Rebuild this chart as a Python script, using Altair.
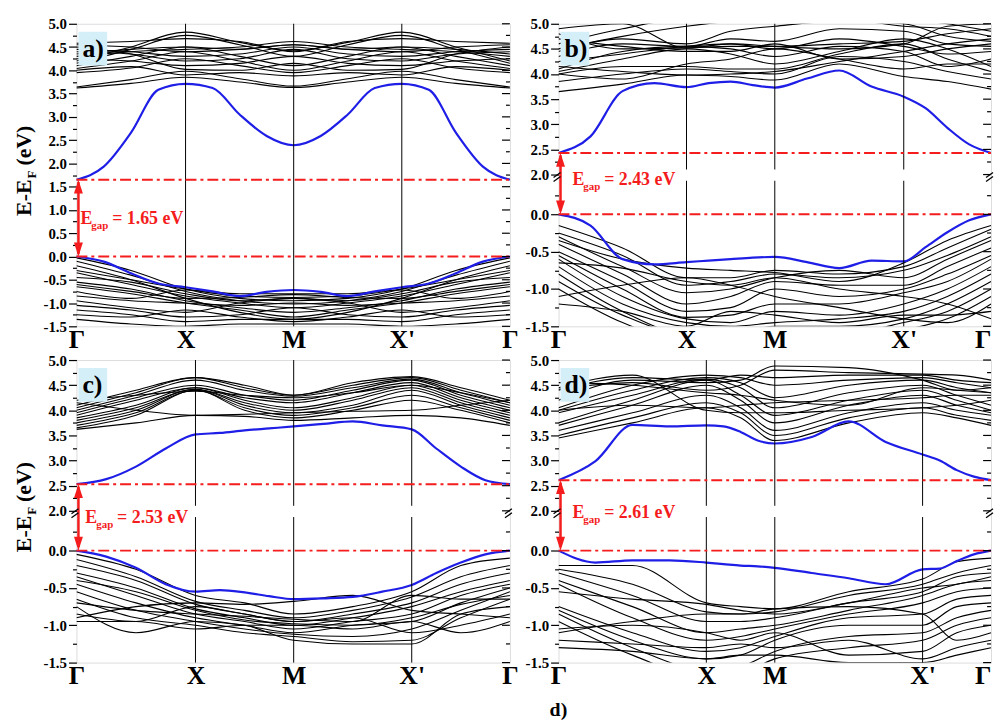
import altair as alt
import pandas as pd

FONT = "Liberation Serif"
BG = "#d5eff9"
RED = "#f41c1c"
BLUE = "#1e1ee6"

HS_LABELS = ["Γ", "X", "M", "X'", "Γ"]
K_BLACK = [0.0, 0.5, 1.0, 1.5, 2.0, 2.5, 3.0, 3.5, 4.0]
K_BLUE = [0.0, 0.25, 0.5, 0.75, 1.0, 1.25, 1.5, 1.75, 2.0, 2.25, 2.5, 2.75, 3.0, 3.25, 3.5, 3.75, 4.0]

FULL_MAJOR = [-1.5, -1.0, -0.5, 0.0, 0.5, 1.0, 1.5, 2.0, 2.5, 3.0, 3.5, 4.0, 4.5, 5.0]
FULL_MINOR = [-1.25, -0.75, -0.25, 0.25, 0.75, 1.25, 1.75, 2.25, 2.75, 3.25, 3.75, 4.25, 4.75]
BROKEN_MAJOR = [-1.5, -1.0, -0.5, 0.0, 2.0, 2.5, 3.0, 3.5, 4.0, 4.5, 5.0]
BROKEN_MINOR = [-1.25, -0.75, -0.25, 0.25, 2.25, 2.75, 3.25, 3.75, 4.25, 4.75]

# ---------------- panel a ----------------
A_GAP = 1.65
A_BLUE_CB = [1.65, 1.93, 2.66, 3.58, 3.71, 3.62, 3.05, 2.59, 2.39, 2.59, 3.05, 3.62, 3.71, 3.58, 2.66, 1.93, 1.65]
A_BLUE_VB = [0.0, -0.11, -0.36, -0.58, -0.66, -0.75, -0.85, -0.76, -0.72, -0.76, -0.85, -0.75, -0.66, -0.58, -0.36, -0.11, 0.0]
A_CB = [
    [3.62, 3.72, 3.85, 3.75, 3.63, 3.75, 3.85, 3.72, 3.62],
    [3.64, 3.80, 3.98, 3.82, 3.66, 3.82, 3.98, 3.80, 3.64],
    [4.00, 4.08, 3.90, 3.95, 3.88, 3.95, 3.90, 4.08, 4.00],
    [4.04, 4.20, 4.40, 4.20, 4.00, 4.20, 4.40, 4.20, 4.04],
    [4.10, 4.30, 4.50, 4.30, 4.10, 4.30, 4.50, 4.30, 4.10],
    [4.15, 4.45, 4.75, 4.55, 4.30, 4.55, 4.75, 4.45, 4.15],
    [4.20, 4.50, 4.82, 4.60, 4.42, 4.60, 4.82, 4.50, 4.20],
    [4.30, 4.40, 4.45, 4.50, 4.62, 4.50, 4.45, 4.40, 4.30],
    [4.35, 4.45, 4.50, 4.45, 4.55, 4.45, 4.50, 4.45, 4.35],
    [4.40, 4.35, 4.20, 4.25, 4.45, 4.25, 4.20, 4.35, 4.40],
    [4.45, 4.40, 4.30, 4.35, 4.50, 4.35, 4.30, 4.40, 4.45],
    [4.50, 4.35, 4.02, 4.00, 4.15, 4.00, 4.02, 4.35, 4.50],
    [4.55, 4.50, 4.40, 4.45, 4.55, 4.45, 4.40, 4.50, 4.55],
    [4.25, 4.20, 4.10, 4.15, 4.30, 4.15, 4.10, 4.20, 4.25],
    [3.95, 4.05, 4.25, 4.10, 3.95, 4.10, 4.25, 4.05, 3.95],
    [4.58, 4.62, 4.68, 4.62, 4.40, 4.62, 4.68, 4.62, 4.58],
]
A_VB = [
    [-0.03, -0.30, -0.70, -0.90, -0.95, -0.90, -0.70, -0.30, -0.03],
    [-0.10, -0.40, -0.75, -0.95, -1.02, -0.95, -0.75, -0.40, -0.10],
    [-0.30, -0.50, -0.70, -0.85, -0.88, -0.85, -0.70, -0.50, -0.30],
    [-0.35, -0.60, -0.85, -1.00, -1.10, -1.00, -0.85, -0.60, -0.35],
    [-0.45, -0.55, -0.80, -0.95, -0.90, -0.95, -0.80, -0.55, -0.45],
    [-0.55, -0.70, -0.95, -1.10, -1.20, -1.10, -0.95, -0.70, -0.55],
    [-0.65, -0.80, -1.00, -1.15, -1.30, -1.15, -1.00, -0.80, -0.65],
    [-0.75, -0.90, -0.72, -0.80, -0.80, -0.80, -0.72, -0.90, -0.75],
    [-0.85, -0.95, -1.00, -1.05, -1.00, -1.05, -1.00, -0.95, -0.85],
    [-0.95, -1.10, -1.20, -1.00, -0.90, -1.00, -1.20, -1.10, -0.95],
    [-1.05, -1.15, -1.30, -1.25, -1.10, -1.25, -1.30, -1.15, -1.05],
    [-1.15, -1.25, -1.40, -1.35, -1.35, -1.35, -1.40, -1.25, -1.15],
    [-1.25, -1.30, -1.15, -1.30, -1.40, -1.30, -1.15, -1.30, -1.25],
    [-1.35, -1.45, -1.50, -1.45, -1.45, -1.45, -1.50, -1.45, -1.35],
    [-0.20, -0.50, -0.90, -1.20, -1.35, -1.20, -0.90, -0.50, -0.20],
    [-0.60, -0.75, -0.90, -0.88, -0.82, -0.88, -0.90, -0.75, -0.60],
]

# ---------------- panel b ----------------
B_GAP = 2.43
B_BLUE_CB = [2.43, 2.76, 3.66, 3.82, 3.74, 3.82, 3.85, 3.78, 3.73, 3.91, 4.07, 3.75, 3.55, 3.32, 2.93, 2.60, 2.43]
B_BLUE_VB = [0.0, -0.15, -0.60, -0.67, -0.64, -0.62, -0.60, -0.58, -0.57, -0.64, -0.72, -0.62, -0.63, -0.44, -0.24, -0.08, 0.0]
B_CB = [
    [3.65, 3.80, 3.98, 3.95, 3.88, 4.20, 3.95, 3.85, 3.70],
    [3.85, 4.00, 4.10, 4.05, 4.00, 4.35, 4.25, 4.05, 3.90],
    [4.00, 4.15, 4.15, 4.10, 4.10, 4.40, 4.60, 4.30, 4.05],
    [4.05, 4.30, 4.50, 4.40, 4.20, 4.45, 4.70, 4.50, 4.15],
    [4.10, 4.45, 4.55, 4.50, 4.35, 4.55, 4.45, 4.15, 4.30],
    [4.25, 4.40, 4.55, 4.60, 4.50, 4.70, 4.55, 4.40, 4.45],
    [4.35, 4.60, 4.55, 4.70, 4.65, 4.90, 4.85, 4.60, 4.55],
    [4.45, 4.70, 4.60, 4.85, 4.95, 5.05, 5.00, 4.75, 4.65],
    [4.50, 4.75, 4.95, 5.05, 5.10, 5.10, 4.95, 4.90, 4.75],
    [4.60, 4.90, 5.10, 5.10, 5.10, 5.20, 5.10, 5.00, 4.85],
    [4.70, 4.55, 4.45, 4.45, 4.60, 4.30, 4.35, 4.50, 4.60],
    [4.80, 4.50, 4.52, 4.55, 4.55, 4.60, 4.65, 4.80, 4.90],
    [4.90, 5.00, 4.52, 4.60, 4.55, 4.50, 4.60, 4.95, 5.00],
    [4.00, 3.90, 4.20, 4.30, 4.50, 4.30, 4.10, 4.20, 4.20],
    [4.15, 4.05, 3.98, 4.00, 4.05, 4.25, 4.45, 4.60, 4.70],
]
B_VB = [
    [-0.15, -0.45, -0.85, -0.85, -0.75, -0.80, -0.70, -0.45, -0.20],
    [-0.25, -0.55, -0.95, -0.90, -0.80, -0.85, -0.75, -0.55, -0.30],
    [-0.30, -0.70, -1.05, -1.00, -0.85, -0.75, -0.85, -0.60, -0.35],
    [-0.40, -0.80, -1.20, -1.10, -0.90, -0.95, -0.95, -0.70, -0.45],
    [-0.50, -0.90, -1.30, -1.25, -1.00, -1.10, -1.00, -0.80, -0.55],
    [-0.55, -1.00, -1.38, -1.35, -1.20, -1.20, -1.05, -0.90, -0.60],
    [-0.60, -1.10, -1.40, -1.45, -1.30, -1.35, -1.20, -1.00, -0.70],
    [-0.70, -1.20, -1.45, -1.50, -1.45, -1.40, -1.30, -1.10, -0.80],
    [-0.80, -1.30, -1.60, -1.60, -1.50, -1.50, -1.40, -1.20, -0.90],
    [-0.90, -1.35, -1.60, -1.60, -1.60, -1.60, -1.45, -1.30, -1.00],
    [-1.00, -1.45, -1.70, -1.70, -1.70, -1.70, -1.55, -1.40, -1.10],
    [-1.10, -0.95, -0.85, -0.95, -1.10, -1.25, -1.40, -1.45, -1.20],
    [-1.20, -1.30, -1.50, -1.30, -1.35, -1.45, -1.35, -1.35, -1.30],
    [-0.65, -0.72, -0.90, -0.95, -0.85, -1.00, -1.10, -1.20, -1.40],
    [-0.35, -0.60, -0.72, -0.75, -0.78, -0.90, -0.65, -0.35, -0.15],
]

# ---------------- panel c ----------------
C_GAP = 2.53
C_BLUE_CB = [2.53, 2.63, 2.88, 3.24, 3.52, 3.55, 3.60, 3.64, 3.68, 3.73, 3.78, 3.70, 3.62, 3.24, 2.88, 2.61, 2.53]
C_BLUE_VB = [0.0, -0.08, -0.23, -0.45, -0.55, -0.53, -0.56, -0.61, -0.65, -0.64, -0.62, -0.55, -0.46, -0.30, -0.16, -0.05, 0.0]
C_CB = [
    [3.62, 3.75, 3.90, 3.88, 3.80, 3.85, 3.90, 3.85, 3.70],
    [3.65, 3.90, 4.40, 4.00, 3.85, 4.00, 4.20, 4.00, 3.75],
    [3.70, 3.95, 4.40, 4.05, 3.90, 4.05, 4.30, 4.05, 3.80],
    [3.75, 4.00, 4.42, 4.10, 3.95, 4.10, 4.40, 4.10, 3.85],
    [3.80, 4.05, 4.42, 4.15, 4.00, 4.20, 4.45, 4.15, 3.90],
    [3.85, 4.10, 4.45, 4.20, 4.05, 4.25, 4.50, 4.20, 3.95],
    [3.90, 4.20, 4.45, 4.25, 4.15, 4.35, 4.55, 4.25, 4.00],
    [3.95, 4.25, 4.50, 4.30, 4.20, 4.40, 4.60, 4.30, 4.05],
    [4.00, 4.30, 4.60, 4.40, 4.28, 4.45, 4.62, 4.35, 4.10],
    [4.05, 4.35, 4.65, 4.45, 4.30, 4.50, 4.65, 4.40, 4.15],
    [4.10, 4.40, 4.65, 4.50, 4.30, 4.55, 4.67, 4.45, 4.20],
    [4.15, 4.00, 3.90, 3.92, 3.95, 3.98, 4.00, 4.10, 4.20],
    [4.20, 4.30, 4.38, 4.30, 4.25, 4.35, 4.50, 4.35, 4.15],
]
C_VB = [
    [-0.05, -0.25, -0.60, -0.70, -0.85, -0.75, -0.55, -0.20, -0.10],
    [-0.12, -0.35, -0.68, -0.80, -0.90, -0.80, -0.62, -0.35, -0.20],
    [-0.20, -0.40, -0.72, -0.85, -0.95, -0.85, -0.70, -0.45, -0.30],
    [-0.30, -0.50, -0.78, -0.90, -1.00, -0.90, -0.75, -0.55, -0.40],
    [-0.35, -0.60, -0.85, -0.95, -1.05, -0.95, -0.85, -0.60, -0.45],
    [-0.45, -0.70, -0.90, -1.00, -1.10, -1.00, -0.95, -0.70, -0.50],
    [-0.55, -0.80, -0.95, -1.05, -1.12, -1.15, -1.05, -0.80, -0.55],
    [-0.65, -0.90, -1.00, -1.10, -1.15, -1.22, -1.20, -0.90, -0.65],
    [-0.75, -1.10, -0.95, -1.00, -1.20, -1.25, -1.25, -0.85, -0.75],
    [-0.85, -0.95, -0.75, -0.85, -0.95, -0.90, -1.10, -1.00, -0.85],
    [-0.95, -0.95, -1.05, -1.00, -1.00, -1.05, -0.95, -1.10, -0.95],
    [-0.90, -0.75, -0.70, -0.72, -0.68, -0.60, -0.80, -0.85, -0.90],
    [-0.70, -0.80, -0.85, -0.88, -0.92, -0.95, -0.60, -0.65, -0.65],
    [-0.40, -0.55, -0.80, -0.93, -0.98, -1.00, -0.90, -0.72, -0.60],
]

# ---------------- panel d ----------------
D_GAP = 2.61
D_BLUE_CB = [2.61, 2.99, 3.71, 3.68, 3.70, 3.68, 3.57, 3.40, 3.34, 3.47, 3.78, 3.37, 3.12, 3.00, 2.81, 2.68, 2.61]
D_BLUE_VB = [0.0, -0.16, -0.13, -0.13, -0.16, -0.18, -0.20, -0.21, -0.23, -0.30, -0.37, -0.45, -0.25, -0.24, -0.14, -0.05, 0.0]
D_CB = [
    [3.45, 3.75, 4.05, 3.85, 3.40, 3.75, 3.95, 3.85, 3.70],
    [3.50, 3.85, 4.15, 3.95, 3.50, 3.85, 4.05, 3.90, 3.80],
    [3.60, 3.95, 4.30, 4.05, 3.60, 3.95, 4.15, 4.00, 3.90],
    [3.70, 4.10, 4.50, 4.20, 3.75, 4.10, 4.30, 4.10, 3.95],
    [3.75, 4.20, 4.60, 4.30, 3.90, 4.20, 4.40, 4.20, 4.00],
    [3.95, 4.30, 4.62, 4.45, 4.05, 4.35, 4.50, 4.30, 4.10],
    [4.00, 4.40, 4.65, 4.55, 4.25, 4.50, 4.60, 4.45, 4.35],
    [4.05, 4.50, 4.70, 4.65, 4.50, 4.60, 4.65, 4.55, 4.45],
    [4.40, 4.65, 4.60, 4.70, 4.65, 4.70, 4.70, 4.60, 4.55],
    [4.42, 4.55, 4.40, 4.50, 4.80, 4.75, 4.72, 4.70, 4.60],
    [4.45, 4.70, 4.00, 3.95, 3.95, 4.00, 4.05, 4.10, 4.20],
    [4.20, 4.60, 4.55, 4.60, 4.88, 4.85, 4.60, 4.40, 4.45],
    [4.00, 4.10, 4.05, 4.10, 4.15, 4.20, 4.25, 4.30, 4.30],
    [4.55, 4.50, 4.35, 4.30, 4.20, 4.10, 4.45, 4.40, 4.35],
]
D_VB = [
    [-0.20, -0.20, -0.70, -0.75, -0.78, -0.55, -0.38, -0.15, -0.10],
    [-0.25, -0.45, -0.82, -0.85, -0.82, -0.60, -0.45, -0.30, -0.20],
    [-0.30, -0.60, -0.95, -0.95, -0.90, -0.70, -0.55, -0.35, -0.30],
    [-0.40, -0.75, -1.10, -1.05, -1.00, -0.80, -0.60, -0.45, -0.40],
    [-0.45, -0.90, -1.20, -1.15, -1.05, -0.85, -0.70, -0.55, -0.50],
    [-0.75, -1.10, -1.35, -1.30, -1.15, -0.90, -0.85, -0.65, -0.60],
    [-0.80, -1.20, -1.45, -1.40, -1.20, -1.00, -1.00, -0.75, -0.70],
    [-0.85, -1.30, -1.60, -1.55, -1.35, -1.15, -1.10, -0.90, -0.80],
    [-0.95, -1.40, -1.70, -1.65, -1.45, -1.30, -1.20, -1.00, -0.90],
    [-1.05, -1.00, -1.10, -1.20, -1.10, -1.40, -1.35, -1.10, -1.00],
    [-1.10, -0.95, -0.85, -0.85, -0.78, -0.75, -0.85, -1.20, -1.10],
    [-1.20, -1.25, -1.30, -1.25, -1.30, -1.20, -1.45, -1.30, -1.20],
    [-1.30, -1.35, -1.45, -1.40, -1.40, -1.50, -1.50, -1.40, -1.30],
    [-0.55, -0.65, -0.72, -0.80, -0.85, -0.70, -0.50, -0.45, -0.35],
]

H = 305
MAJOR_TEST = "abs(datum.value*2 - round(datum.value*2)) < 0.001"
ONE = pd.DataFrame({"dummy": [0]})


def build_panel(tag, gap, cb_black, vb_black, blue_cb, blue_vb, xpos, width,
                broken, ytitle, right, text_dx, text_base, bottom_tag=None):
    rows = []
    for i, band in enumerate(cb_black + vb_black):
        for k, e in zip(K_BLACK, band):
            rows.append({"k": k, "E": e, "band": "b%d" % i})
    black_df = pd.DataFrame(rows)
    brows = []
    for name, band in (("cb", blue_cb), ("vb", blue_vb)):
        for k, e in zip(K_BLUE, band):
            brows.append({"k": k, "E": e, "band": name})
    blue_df = pd.DataFrame(brows)

    if broken:
        ydom, yrng = [-1.5, 0.5, 2.0, 5.0], [H, 154.5, 152, 0]
        major, minor = BROKEN_MAJOR, BROKEN_MINOR
        segs = [(-1.5, 0.45), (2.1, 5.0)]
    else:
        ydom, yrng = [-1.5, 5.0], [H, 0]
        major, minor = FULL_MAJOR, FULL_MINOR
        segs = [(-1.5, 5.0)]

    xscale = alt.Scale(domain=[0, 1, 2, 3, 4], range=xpos, nice=False, zero=False)
    yscale = alt.Scale(domain=ydom, range=yrng, nice=False, zero=False)
    lab_align = ({"condition": {"test": "datum.value == 4", "value": "right"}, "value": "center"}
                 if right else "center")
    xaxis = alt.Axis(values=[0, 1, 2, 3, 4],
                     labelExpr='["Γ","X","M","X\'","Γ"][round(datum.value)]',
                     ticks=False, domain=False, grid=False, labelFont=FONT,
                     labelFontSize=26, labelFontWeight="bold", labelColor="black",
                     labelPadding=0, labelFlush=False, title=None, labelAlign=lab_align)
    yaxis = alt.Axis(values=major + minor,
                     labelExpr=MAJOR_TEST + " ? (datum.value < 0 ? '-' + format(-datum.value, '.1f') : format(datum.value, '.1f')) : ''",
                     tickSize={"condition": {"test": MAJOR_TEST, "value": 8}, "value": 4},
                     tickColor="black", tickWidth=1.2, domain=False, grid=False,
                     labelFont=FONT, labelFontSize=15, labelFontWeight="bold",
                     labelColor="black", labelPadding=2, title=None)
    X = alt.X("k:Q", scale=xscale, axis=xaxis)
    Y = alt.Y("E:Q", scale=yscale, axis=yaxis)

    layers = []
    layers.append(alt.Chart(black_df).mark_line(color="black", strokeWidth=1.1,
                  interpolate="monotone", clip=True).encode(x=X, y=Y, detail="band:N"))
    layers.append(alt.Chart(blue_df).mark_line(color=BLUE, strokeWidth=2.2,
                  interpolate="monotone", clip=True).encode(x=X, y=Y, detail="band:N"))
    vrows = []
    for kk in [1, 2, 3]:
        for lo, hi in segs:
            vrows.append({"k": kk, "E": lo, "E2": hi})
    layers.append(alt.Chart(pd.DataFrame(vrows)).mark_rule(color="black", strokeWidth=1)
                  .encode(x=X, y=Y, y2="E2:Q"))
    layers.append(alt.Chart(pd.DataFrame({"k": [0, 0], "k2": [4, 4], "E": [0.0, gap]}))
                  .mark_rule(color=RED, strokeWidth=2, strokeDash=[11, 4, 3, 4])
                  .encode(x=X, x2="k2:Q", y=Y))
    layers.append(alt.Chart(pd.DataFrame({"k": [0], "E": [0.05], "E2": [gap - 0.05]}))
                  .mark_rule(color=RED, strokeWidth=2.5, xOffset=2)
                  .encode(x=X, y=Y, y2="E2:Q"))
    layers.append(alt.Chart(pd.DataFrame({"k": [0], "E": [gap]}))
                  .mark_point(shape="M0,0L-0.45,1.4L0.45,1.4Z", filled=True, color=RED,
                              size=400, opacity=1, xOffset=2)
                  .encode(x=X, y=Y))
    layers.append(alt.Chart(pd.DataFrame({"k": [0], "E": [0.0]}))
                  .mark_point(shape="M0,0L-0.45,-1.4L0.45,-1.4Z", filled=True, color=RED,
                              size=400, opacity=1, xOffset=2)
                  .encode(x=X, y=Y))
    # right-side inward ticks
    layers.append(alt.Chart(pd.DataFrame({"k": [4] * len(major), "k2": [4] * len(major), "E": major}))
                  .mark_rule(color="black", strokeWidth=1.2, xOffset=-8)
                  .encode(x=X, x2="k2:Q", y=Y))
    layers.append(alt.Chart(pd.DataFrame({"k": [4] * len(minor), "k2": [4] * len(minor), "E": minor}))
                  .mark_rule(color="black", strokeWidth=1.2, xOffset=-4)
                  .encode(x=X, x2="k2:Q", y=Y))
    if broken:
        brk = pd.DataFrame({"k": [0, 4], "k2": [0, 4], "E": [2.0, 2.0], "E2": [2.0, 2.0]})
        for yo in (0, 4):
            layers.append(alt.Chart(brk)
                          .mark_rule(color="black", strokeWidth=1.3, xOffset=-5, x2Offset=2,
                                     yOffset=3 + yo, y2Offset=-2 + yo)
                          .encode(x=X, x2="k2:Q", y=Y, y2="E2:Q"))
    # label box + panel tag
    layers.append(alt.Chart(ONE).mark_rect(color=BG)
                  .encode(x=alt.value(2), x2=alt.value(31), y=alt.value(8), y2=alt.value(42)))
    layers.append(alt.Chart(ONE).mark_text(text=tag, font=FONT, fontSize=26, fontWeight="bold",
                                           align="left", baseline="middle", color="black")
                  .encode(x=alt.value(6), y=alt.value(25)))
    # gap annotation
    layers.append(alt.Chart(ONE).mark_text(text="E", font=FONT, fontSize=18, fontWeight="bold",
                                           align="left", baseline="alphabetic", color=RED)
                  .encode(x=alt.value(text_dx), y=alt.value(text_base)))
    layers.append(alt.Chart(ONE).mark_text(text="gap", font=FONT, fontSize=11, fontWeight="bold",
                                           align="left", baseline="alphabetic", color=RED)
                  .encode(x=alt.value(text_dx + 11), y=alt.value(text_base + 5)))
    layers.append(alt.Chart(ONE).mark_text(text="= %.2f eV" % gap, font=FONT, fontSize=18,
                                           fontWeight="bold", align="left",
                                           baseline="alphabetic", color=RED)
                  .encode(x=alt.value(text_dx + 32), y=alt.value(text_base)))
    if ytitle:
        layers.append(alt.Chart(ONE).mark_text(text="E-E", font=FONT, fontSize=22, fontWeight="bold",
                                               angle=270, align="right", baseline="alphabetic",
                                               color="black")
                      .encode(x=alt.value(-46), y=alt.value(157)))
        layers.append(alt.Chart(ONE).mark_text(text="F", font=FONT, fontSize=13, fontWeight="bold",
                                               angle=270, align="center", baseline="alphabetic",
                                               color="black")
                      .encode(x=alt.value(-41), y=alt.value(152)))
        layers.append(alt.Chart(ONE).mark_text(text="(eV)", font=FONT, fontSize=22, fontWeight="bold",
                                               angle=270, align="left", baseline="alphabetic",
                                               color="black")
                      .encode(x=alt.value(-46), y=alt.value(143)))
    if bottom_tag:
        layers.append(alt.Chart(ONE).mark_text(text=bottom_tag, font=FONT, fontSize=20,
                                               fontWeight="bold", align="left",
                                               baseline="middle", color="black")
                      .encode(x=alt.value(-9), y=alt.value(353)))
    return alt.layer(*layers).properties(width=width, height=H)


pa = build_panel("a)", A_GAP, A_CB, A_VB, A_BLUE_CB, A_BLUE_VB, [0, 110, 219, 328, 437], 437,
                 False, True, False, 4, 201.7)
pb = build_panel("b)", B_GAP, B_CB, B_VB, B_BLUE_CB, B_BLUE_VB, [0, 129, 218, 348, 436], 436,
                 True, False, True, 14, 163)
pc = build_panel("c)", C_GAP, C_CB, C_VB, C_BLUE_CB, C_BLUE_VB, [0, 120, 219, 338, 437], 437,
                 True, True, False, 9, 164)
pd_ = build_panel("d)", D_GAP, D_CB, D_VB, D_BLUE_CB, D_BLUE_VB, [0, 149, 218, 367, 436], 436,
                  True, False, True, 14, 159, bottom_tag="d)")

chart = (alt.concat(pa, pb, pc, pd_, columns=2, spacing={"row": 34, "column": 49}, bounds="flush")
         .properties(padding={"left": 4, "top": 5, "right": 0, "bottom": 0}, background="white")
         .configure_view(fill=BG, stroke="black", strokeWidth=1.5)
         .configure(font=FONT))

chart.save("out.html", embed_options={"renderer": "svg", "actions": False})
